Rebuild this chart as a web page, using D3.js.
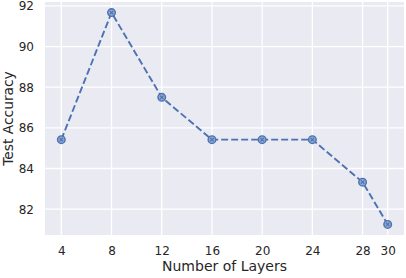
<!DOCTYPE html>
<html>
<head>
<meta charset="utf-8">
<script src="https://cdn.jsdelivr.net/npm/d3@7"></script>
<style>
  body { margin: 0; background: #fff; }
  text { font-family: "DejaVu Sans", sans-serif; fill: #262626; }
</style>
</head>
<body>
<div id="chart"></div>
<script>
// data
const layers = [4, 8, 12, 16, 20, 24, 28, 30];
const accuracy = [85.42, 91.67, 87.5, 85.42, 85.42, 85.42, 83.33, 81.25];
const yTicks = [82, 84, 86, 88, 90, 92];

const width = 406, height = 278;
const margin = {top: 2, right: 2, bottom: 43, left: 45};

const svg = d3.select("#chart").append("svg")
    .attr("width", width)
    .attr("height", height);

// matplotlib style 5% padding on both axes
const xPad = (30 - 4) * 0.05;
const yPad = (d3.max(accuracy) - d3.min(accuracy)) * 0.05;

const x = d3.scaleLinear()
    .domain([4 - xPad, 30 + xPad])
    .range([margin.left, width - margin.right]);

const y = d3.scaleLinear()
    .domain([d3.min(accuracy) - yPad, d3.max(accuracy) + yPad])
    .range([height - margin.bottom, margin.top]);

// background
svg.append("rect")
    .attr("x", margin.left)
    .attr("y", margin.top)
    .attr("width", width - margin.left - margin.right)
    .attr("height", height - margin.top - margin.bottom)
    .attr("fill", "#EAEAF2");

// grid
const grid = svg.append("g").attr("stroke", "#fff").attr("stroke-width", 1.3);
grid.selectAll("line.gx")
    .data(layers)
    .join("line")
    .attr("class", "gx")
    .attr("x1", d => x(d)).attr("x2", d => x(d))
    .attr("y1", margin.top).attr("y2", height - margin.bottom);
grid.selectAll("line.gy")
    .data(yTicks)
    .join("line")
    .attr("class", "gy")
    .attr("y1", d => y(d)).attr("y2", d => y(d))
    .attr("x1", margin.left).attr("x2", width - margin.right);

// axes (no ticks, no domain lines, seaborn darkgrid)
const xAxis = g => g
    .attr("transform", `translate(0,${height - margin.bottom})`)
    .call(d3.axisBottom(x).tickValues(layers).tickSize(0).tickPadding(11))
    .call(g => g.select(".domain").remove())
    .call(g => g.selectAll("text").attr("font-size", 12).style("font-family", "DejaVu Sans"));

const yAxis = g => g
    .attr("transform", `translate(${margin.left},0)`)
    .call(d3.axisLeft(y).tickValues(yTicks).tickSize(0).tickPadding(11))
    .call(g => g.select(".domain").remove())
    .call(g => g.selectAll("text").attr("font-size", 12).style("font-family", "DejaVu Sans"));

svg.append("g").call(xAxis);
svg.append("g").call(yAxis);

// axis labels
svg.append("text")
    .attr("x", (margin.left + width - margin.right) / 2)
    .attr("y", 271)
    .attr("text-anchor", "middle")
    .attr("font-size", 14)
    .text("Number of Layers");

svg.append("text")
    .attr("transform", `translate(13,${(margin.top + height - margin.bottom) / 2}) rotate(-90)`)
    .attr("text-anchor", "middle")
    .attr("font-size", 13.8)
    .text("Test Accuracy");

const pts = layers.map((l, i) => ({l: l, a: accuracy[i]}));

// dashed line
svg.append("path")
    .datum(pts)
    .attr("fill", "none")
    .attr("stroke", "#4C72B0")
    .attr("stroke-width", 1.9)
    .attr("stroke-dasharray", "7,3")
    .attr("d", d3.line().x(d => x(d.l)).y(d => y(d.a)));

// markers
const m = svg.append("g").selectAll("g")
    .data(pts)
    .join("g")
    .attr("transform", d => `translate(${x(d.l)},${y(d.a)})`);

m.append("circle")
    .attr("r", 3.8)
    .attr("fill", "#8FA7D2")
    .attr("stroke", "#4C72B0")
    .attr("stroke-width", 1.4);

m.append("path")
    .attr("d", "M-1.8,-1.8L1.8,1.8M-1.8,1.8L1.8,-1.8")
    .attr("stroke", "#4C72B0")
    .attr("stroke-width", 1.1);
</script>
</body>
</html>
